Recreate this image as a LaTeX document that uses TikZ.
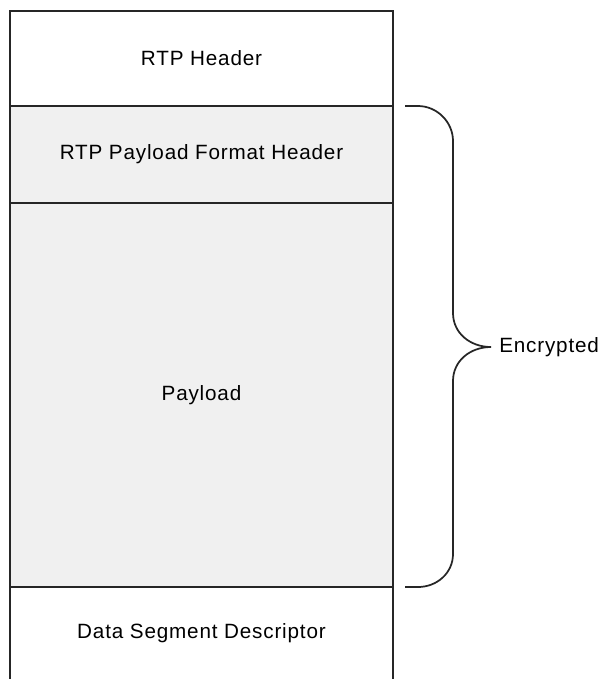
\documentclass[tikz,border=0pt]{standalone}
\usepackage{fontspec}
\setmainfont[LetterSpace=4]{Liberation Sans}
\usepackage{tikz}

\tikzset{
	row/.style = {draw=none, minimum width=383pt*0.75, inner sep=0pt, font=\fontsize{15.5}{18}\selectfont},
	encrow/.style = {row, fill=black!6},
	plainrow/.style = {row, fill=white},
	frame/.style = {draw=black!85, line width=1.3pt},
}

\begin{document}
\begin{tikzpicture}[x=0.75pt, y=-0.75pt]
				\useasboundingbox (0,0) rectangle (603,679);
				\node[plainrow, minimum height=95*0.75pt] (hdr) at (201.5,58.5) {RTP Header};
				\node[encrow, minimum height=97*0.75pt] (fmt) at (201.5,154.5) {RTP Payload Format Header};
				\node[encrow, minimum height=384*0.75pt] (pay) at (201.5,395) {Payload};
				\node[plainrow, minimum height=92*0.75pt] (dsd) at (201.5,633) {Data Segment Descriptor};
				% outline
				\draw[frame] (10,679) -- (10,11) -- (393,11) -- (393,679);
				\foreach \r in {hdr,fmt,pay} {
					\draw[frame] (\r.south west) -- (\r.south east);
				}
				% brace
				\coordinate (btop) at (405,106);
				\coordinate (bbot) at (405,587);
				\node[anchor=west, font=\fontsize{15.5}{18}\selectfont, inner sep=0pt] (enc) at (499,347) {Encrypted};
				\draw[frame] (btop) -- (418,106) .. controls (437,106) and (453,122) .. (453,141)
					-- (453,313) .. controls (453,333) and (470,347) .. (enc.west -| 491,0)
					.. controls (470,347) and (453,361) .. (453,381)
					-- (453,554) .. controls (453,573) and (437,587) .. (418,587) -- (bbot);
			\end{tikzpicture}
\end{document}
